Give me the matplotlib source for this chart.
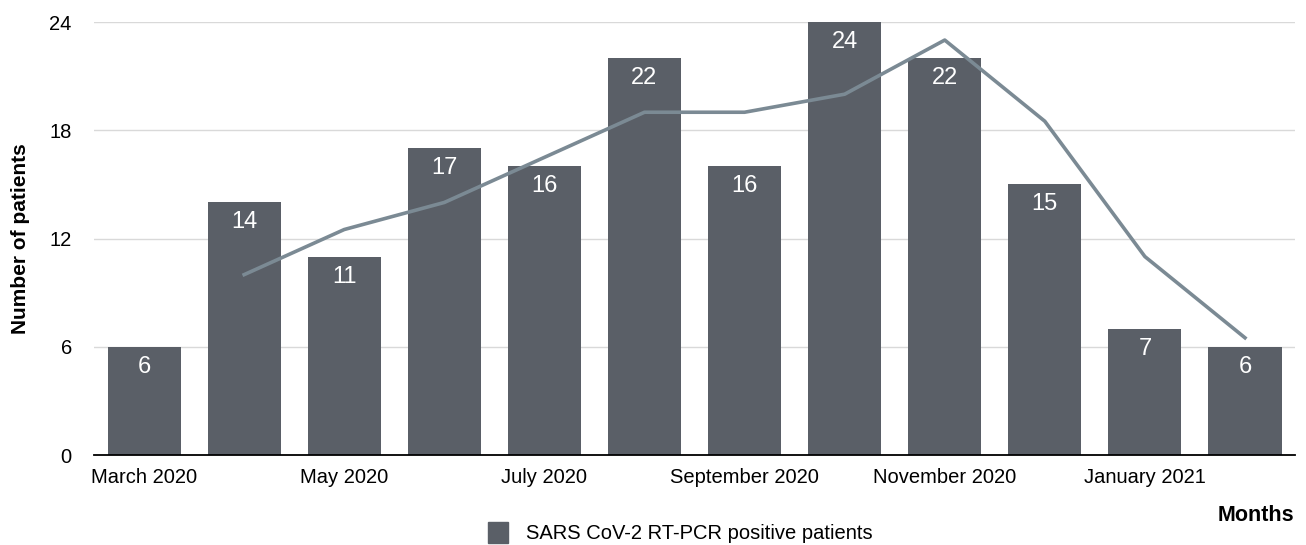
import matplotlib
matplotlib.use('Agg')
import matplotlib.pyplot as plt
from matplotlib.patches import Patch

plt.rcParams['font.family'] = ['Liberation Sans', 'DejaVu Sans']

# Monthly counts
months = ["March 2020", "April 2020", "May 2020", "June 2020", "July 2020",
          "August 2020", "September 2020", "October 2020", "November 2020",
          "December 2020", "January 2021", "February 2021"]
patients = [6, 14, 11, 17, 16, 22, 16, 24, 22, 15, 7, 6]

# Trend line (April 2020 .. February 2021)
trend_months = months[1:]
trend_values = [10, 12.5, 14, 16.5, 19, 19, 20, 23, 18.5, 11, 6.5]

bar_color = '#5a5f67'
line_color = '#7b8a94'

fig = plt.figure(figsize=(13.06, 5.45), dpi=100)
ax = fig.add_axes([0.072, 0.165, 0.9196, 0.7946])

x = list(range(len(months)))
ax.bar(x, patients, width=0.73, color=bar_color, zorder=2)

for xi, v in zip(x, patients):
    ax.text(xi, v - 0.5, str(v), ha='center', va='top', color='white',
            fontsize=17, zorder=4)

tx = [months.index(m) for m in trend_months]
ax.plot(tx, trend_values, color=line_color, linewidth=2.6, zorder=3)

ax.set_xlim(-0.5, len(months) - 0.5)
ax.set_ylim(0, 24)
ax.set_yticks([0, 6, 12, 18, 24])
ax.set_xticks(x[::2])
ax.set_xticklabels(months[::2])
ax.tick_params(axis='both', length=0, labelsize=14.5)
ax.tick_params(axis='x', pad=9)
ax.tick_params(axis='y', pad=16)

ax.grid(axis='y', color='#d9d9d9', linewidth=1, zorder=0)
ax.set_axisbelow(True)
for s in ['top', 'right', 'left']:
    ax.spines[s].set_visible(False)
ax.spines['bottom'].set_color('black')
ax.spines['bottom'].set_linewidth(1.3)

ax.set_ylabel("Number of patients", fontsize=15, fontweight='bold', labelpad=14)
fig.text(0.991, 0.035, "Months", ha='right', va='bottom',
         fontsize=15.5, fontweight='bold')

fig.legend(handles=[Patch(color=bar_color, label="SARS CoV-2 RT-PCR positive patients")],
           loc='lower center', bbox_to_anchor=(0.521, -0.03), frameon=False,
           fontsize=14.5, handlelength=0.95, handleheight=1.25, handletextpad=0.9)

fig.savefig('out.png', dpi=100)
